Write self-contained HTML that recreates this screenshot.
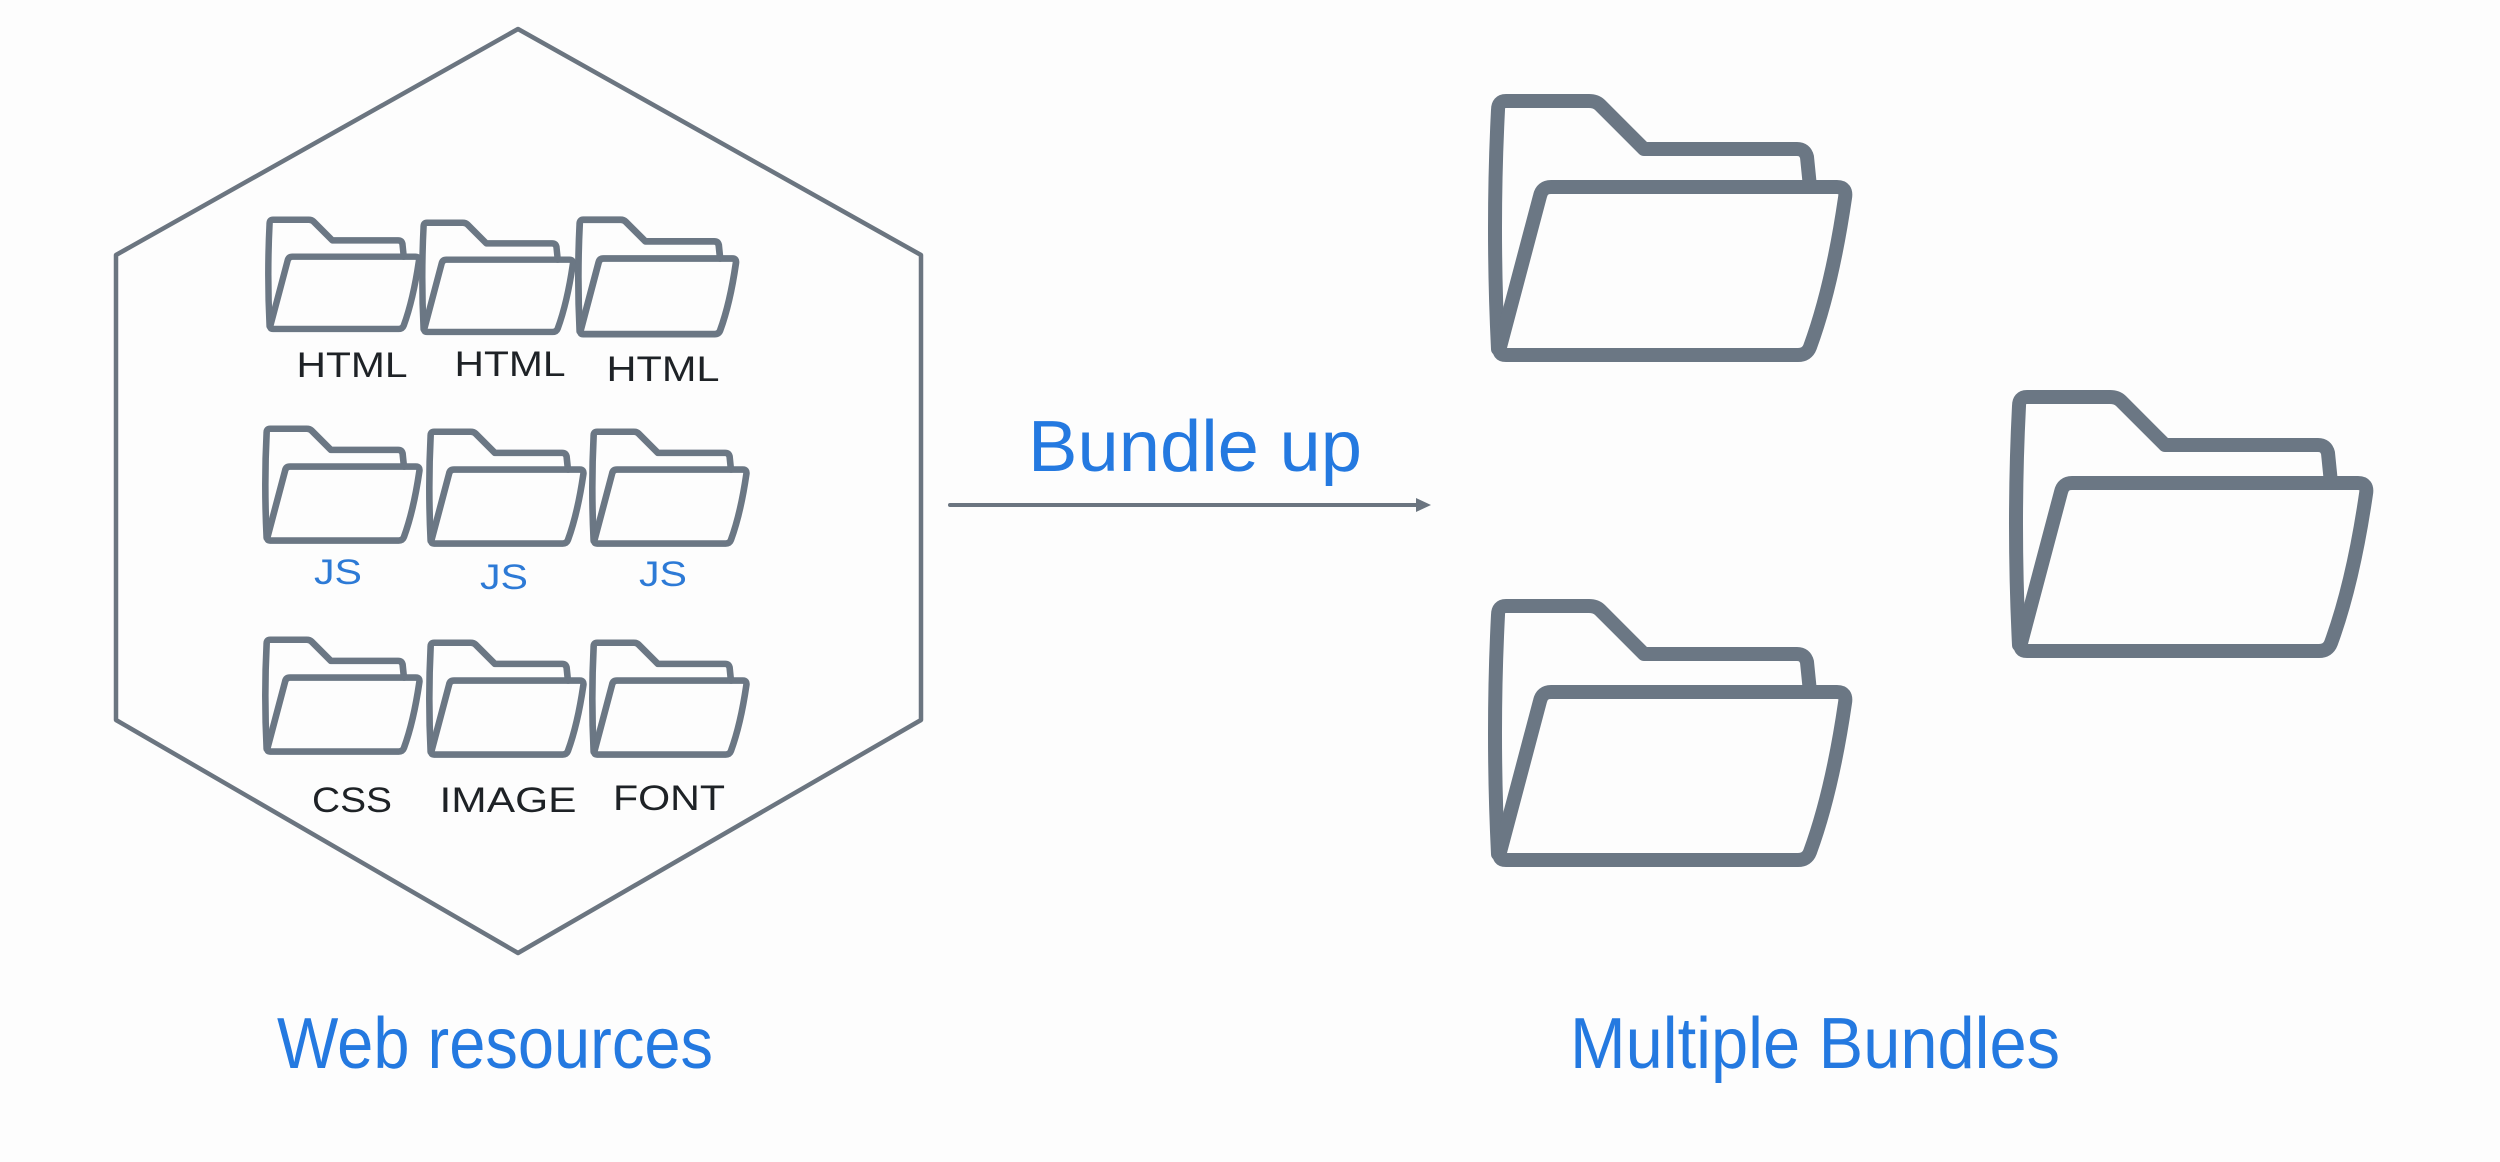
<!DOCTYPE html>
<html><head><meta charset="utf-8"><style>
html,body{margin:0;padding:0;background:#fdfdfd;}
svg{display:block}
</style></head><body>
<svg width="2500" height="1162" viewBox="0 0 2500 1162" xmlns="http://www.w3.org/2000/svg">
<defs>
<g id="f" fill="none" stroke="#6b7784" stroke-linejoin="round" stroke-linecap="round">
<path d="M318 90 L315 60 Q313 52 305 52 L152 52 L108 8 Q104 4 97 4 L14 4 Q6 4 6 13 Q0 130 6 252"/>
<path d="M14 258 Q6 258 8 250 L48 99 Q50 90 59 90 L345 90 Q355 90 353 101 Q340 190 318 250 Q315 258 306 258 Z"/>
</g>
</defs>
<rect width="2500" height="1162" fill="#fdfdfd"/>
<polygon points="518,29 921,255 921,720 518,953 116,720 116,255" fill="none" stroke="#6b7580" stroke-width="4.5" stroke-linejoin="round"/>

<g stroke-width="15">
<g transform="translate(267,218) scale(0.43)"><use href="#f"/></g>
<g transform="translate(421,221) scale(0.43)"><use href="#f"/></g>
<g transform="translate(577,218) scale(0.45)"><use href="#f"/></g>

<g transform="translate(264,427) scale(0.44)"><use href="#f"/></g>
<g transform="translate(428,430) scale(0.44)"><use href="#f"/></g>
<g transform="translate(591,430) scale(0.44)"><use href="#f"/></g>

<g transform="translate(264,638) scale(0.44)"><use href="#f"/></g>
<g transform="translate(428,641) scale(0.44)"><use href="#f"/></g>
<g transform="translate(591,641) scale(0.44)"><use href="#f"/></g>
</g>

<g font-family="Liberation Sans, sans-serif" font-size="35" fill="#1e2226" text-anchor="middle">
<text x="352" y="377" textLength="111" lengthAdjust="spacingAndGlyphs">HTML</text>
<text x="510" y="376" textLength="111" lengthAdjust="spacingAndGlyphs">HTML</text>
<text x="663" y="381" textLength="113" lengthAdjust="spacingAndGlyphs">HTML</text>
<text x="352" y="812" textLength="80" lengthAdjust="spacingAndGlyphs">CSS</text>
<text x="508" y="812" textLength="137" lengthAdjust="spacingAndGlyphs">IMAGE</text>
<text x="669" y="810" textLength="112" lengthAdjust="spacingAndGlyphs">FONT</text>
</g>
<g font-family="Liberation Sans, sans-serif" font-size="35" fill="#2d7ad6" text-anchor="middle">
<text x="338" y="584" textLength="48" lengthAdjust="spacingAndGlyphs">JS</text>
<text x="504" y="589" textLength="48" lengthAdjust="spacingAndGlyphs">JS</text>
<text x="663" y="586" textLength="48" lengthAdjust="spacingAndGlyphs">JS</text>
</g>

<line x1="950" y1="505" x2="1418" y2="505" stroke="#6b7580" stroke-width="4" stroke-linecap="round"/>
<polygon points="1416,498 1431,505 1416,512" fill="#6b7580"/>

<g font-family="Liberation Sans, sans-serif" font-size="72" fill="#2479e0">
<text x="1028" y="471" textLength="334" lengthAdjust="spacingAndGlyphs">Bundle up</text>
<text x="277" y="1068" textLength="436" lengthAdjust="spacingAndGlyphs">Web resources</text>
<text x="1570" y="1068" textLength="490" lengthAdjust="spacingAndGlyphs">Multiple Bundles</text>
</g>

<g stroke-width="14">
<g transform="translate(1492,97)"><use href="#f"/></g>
<g transform="translate(1492,602)"><use href="#f"/></g>
<g transform="translate(2013,393)"><use href="#f"/></g>
</g>
</svg>
</body></html>
